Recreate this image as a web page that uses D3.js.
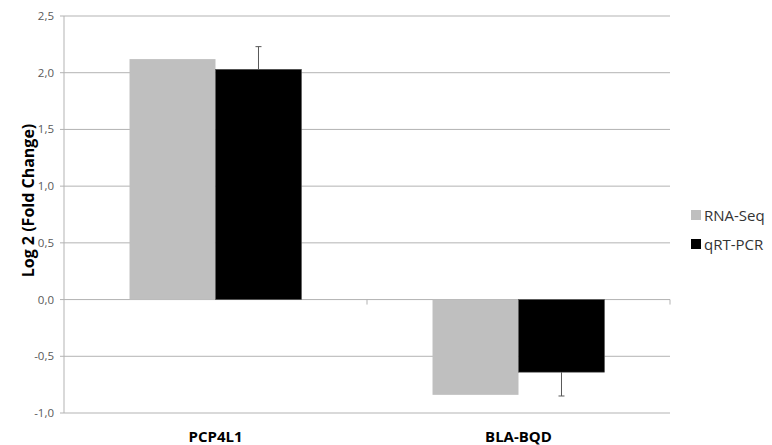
<!DOCTYPE html>
<html><head><meta charset="utf-8">
<script src="https://cdn.jsdelivr.net/npm/d3@7"></script>
<style>body{margin:0;background:#fff;} svg{display:block;font-family:"Open Sans",sans-serif;}</style>
</head><body>
<svg id="c" width="772" height="445"></svg>
<script>
const categories = ["PCP4L1", "BLA-BQD"];
const seriesNames = ["RNA-Seq", "qRT-PCR"];
const rnaSeq = [2.12, -0.84];
const qrtPcr = [2.03, -0.64];
const qrtErr = [0.20, 0.21];
const yTicks = [-1.0, -0.5, 0.0, 0.5, 1.0, 1.5, 2.0, 2.5];
const colors = ["#bfbfbf", "#000000"];

const svg = d3.select("#c");
const pLeft = 64, pRight = 670, pTop = 16, pBottom = 413;
const x = d3.scaleBand().domain(categories).range([pLeft, pRight]).paddingInner(0).paddingOuter(0);
const y = d3.scaleLinear().domain([-1, 2.5]).range([pBottom, pTop]);
const xs = d3.scaleBand().domain(seriesNames).range([0, x.bandwidth()]).paddingInner(0).paddingOuter(0.762);

// gridlines
svg.append("g").selectAll("line").data(yTicks).join("line")
  .attr("x1", pLeft - 4).attr("x2", pRight)
  .attr("y1", d => y(d)).attr("y2", d => y(d))
  .attr("stroke", "#b3b3b3").attr("stroke-width", 1);

// y axis labels
svg.append("g").selectAll("text").data(yTicks).join("text")
  .attr("x", pLeft - 10).attr("y", d => y(d) + 4)
  .attr("text-anchor", "end").attr("font-size", 11.5).attr("fill", "#595959")
  .text(d => d3.format(".1f")(d).replace(".", ",").replace("−", "-"));

// y axis line
svg.append("line").attr("x1", pLeft).attr("x2", pLeft).attr("y1", pTop).attr("y2", pBottom)
  .attr("stroke", "#b3b3b3");

// x axis category ticks at zero line
svg.append("g").selectAll("line").data([x(categories[1]), pRight]).join("line")
  .attr("x1", d => d).attr("x2", d => d).attr("y1", y(0)).attr("y2", y(0) + 5)
  .attr("stroke", "#b3b3b3");

const data = [rnaSeq, qrtPcr];
data.forEach((vals, si) => {
  svg.append("g").selectAll("rect").data(categories).join("rect")
    .attr("x", c => x(c) + xs(seriesNames[si]))
    .attr("width", xs.bandwidth())
    .attr("y", (c, i) => y(Math.max(0, vals[i])))
    .attr("height", (c, i) => Math.abs(y(vals[i]) - y(0)))
    .attr("fill", colors[si])
    .attr("stroke", si === 1 ? "#555" : "none").attr("stroke-width", 0.6);
});

// error bars (away from zero)
const eg = svg.append("g");
categories.forEach((c, i) => {
  const cx = x(c) + xs(seriesNames[1]) + xs.bandwidth() / 2;
  const v = qrtPcr[i];
  const end = v >= 0 ? v + qrtErr[i] : v - qrtErr[i];
  eg.append("line").attr("x1", cx).attr("x2", cx).attr("y1", y(v)).attr("y2", y(end))
    .attr("stroke", "#595959").attr("stroke-width", 1);
  eg.append("line").attr("x1", cx - 3).attr("x2", cx + 3).attr("y1", y(end)).attr("y2", y(end))
    .attr("stroke", "#595959").attr("stroke-width", 1);
});

// category labels
svg.append("g").selectAll("text").data(categories).join("text")
  .attr("x", c => x(c) + x.bandwidth() / 2).attr("y", 442)
  .attr("text-anchor", "middle").attr("font-size", 15).attr("font-weight", "bold").attr("fill", "#000")
  .text(d => d);

// y title
svg.append("text").attr("transform", `translate(34,${(pTop + pBottom) / 2 - 14}) rotate(-90)`)
  .attr("text-anchor", "middle").attr("font-size", 16).attr("font-weight", "bold")
  .text("Log 2 (Fold Change)");

// legend
const lg = svg.append("g");
seriesNames.forEach((s, i) => {
  const ly = 215 + i * 29;
  lg.append("rect").attr("x", 691).attr("y", ly - 5).attr("width", 10).attr("height", 10).attr("fill", colors[i]);
  lg.append("text").attr("x", 704).attr("y", ly + 6).attr("font-size", 15).attr("fill", "#333").text(s);
});
</script>
</body></html>
